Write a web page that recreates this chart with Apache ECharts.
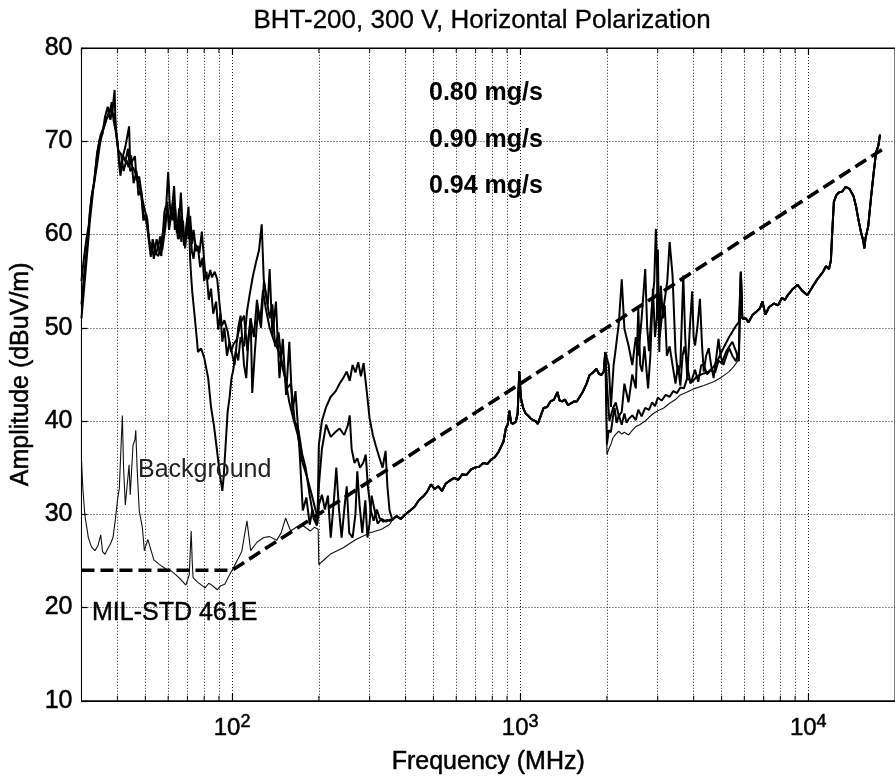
<!DOCTYPE html>
<html><head><meta charset="utf-8">
<script src="https://cdn.jsdelivr.net/npm/echarts@6/dist/echarts.min.js"></script>
<style>html,body{margin:0;padding:0;background:#fff}#c{width:895px;height:780px}</style>
</head><body><div id="c"></div>
<script>
// ---------- axes ----------
const xMin = 30, xMax = 20000;
const yMin = 10, yMax = 80, yStep = 10;
const xLabelExponents = [2, 3, 4];
const minorFreqs = [40,50,60,70,80,90,200,300,400,500,600,700,800,900,2000,3000,4000,5000,6000,7000,8000,9000];

// ---------- MIL-STD 461E limit ----------
const limitLine = [[30,24],[100,24],[18000,69.1]];

// ---------- background ----------
const bgLow = [[30,36],[30.3,33],[30.8,30],[31.7,27.5],[32.5,26.5],[33.4,26.1],[34.2,26.6],[35.0,27.8],[35.5,26.0],[36.2,25.7],[37.0,26.3],[37.8,26.8],[38.6,27.5],[39.4,29.6],[40.0,31.5],[40.6,32.8],[41.0,36],[41.6,40.6],[42.0,35],[42.6,31],[43.2,33],[43.9,35.3],[44.3,32.1],[45.3,37.4],[46.0,38],[46.3,39],[46.8,35],[47.6,30.4],[48.8,28.6],[49.6,26.1],[51.0,27.3],[51.6,27.5],[53.5,25.1],[56,24.6],[59.1,24.1],[61,24.0],[63.8,23.5],[66.4,23.0],[69.1,22.4],[71,23.5],[72.1,28.2],[72.7,25],[73.2,23.2],[76.1,22.7],[80.6,22.1],[83,22.6],[85.1,22.4],[88.8,21.9],[91,22.3],[94.3,22.5],[98.0,23.5],[100,24],[104,25],[108,26],[112.6,29.3],[116,26.1],[122,27],[128.8,27.5],[135,27.6],[142.8,27.2],[148,28],[153.4,29.6],[159.6,28.2],[167,28.6],[176,28.8],[186.8,28.2],[193,28.6],[199,28.4],[200,24.6],[210,25.2],[219,25.7],[243,26.4],[269,27.3],[300,28],[330,28.4],[352,28.9]];
const bgMid = [[2000,36.4],[2030,37],[2065,37.5],[2100,38.2],[2147,38.6],[2200,38.9],[2252,38.6],[2300,38.8],[2377,38.5],[2450,39],[2520,39.4],[2600,39.6],[2716,40.0],[2800,40.4],[2900,40.8],[3006,41.1],[3150,41.4],[3302,41.9],[3460,42.3],[3597,42.8],[3800,43.1],[4046,43.5],[4339,43.8],[4692,44.2],[5000,44.7],[5313,45.3],[5500,45.8],[5742,46.6]];

// ---------- thruster runs, 30-360 MHz ----------
const run080Low = [[30,51],[30.6,54],[31.2,57],[31.7,59.5],[32.1,61.5],[32.7,63.8],[33.4,66.5],[34.0,68.5],[34.7,70.2],[35.5,70.8],[36.2,72.6],[37.0,73.7],[37.8,72.3],[38.5,73.5],[39.1,75.5],[39.4,71.5],[40.0,70],[40.6,67.3],[41.0,66.3],[41.6,68.2],[42.6,69.4],[43.9,71.6],[44.3,67.5],[44.9,67.3],[46.0,68.4],[46.6,65.8],[47.6,66.2],[48.8,63.8],[49.6,62.8],[50.8,61.6],[51.6,59.2],[52.7,58.8],[53.5,57.4],[54.7,59.5],[55.9,58.3],[56.8,57.7],[58.2,62.4],[59.1,63.2],[60.0,66.7],[60.7,63.5],[61.4,61.6],[62.9,65.2],[63.8,61.5],[64.9,59.5],[66.4,64.5],[67.3,61],[68.1,58.8],[69.1,60.2],[70.6,63],[71.5,57.4],[72.1,55.5],[72.7,53.9],[74,51.5],[75.6,48.5],[76.1,47.4],[78,47.8],[80,46.8],[82.6,44.6],[84.5,41.5],[86.5,39.5],[88.5,37],[90.5,34.5],[92.5,32.5],[93.5,34],[95,37.5],[96.5,41],[98,42.5],[99.5,44.6],[101,45.5],[103,47.5],[105,46.5],[107,49],[110,48],[112.6,51.7],[115,53.5],[118,55.5],[121,57],[124,58.3],[126.7,61.1],[128.8,55.2],[131,53.5],[133,52.5],[135,56.3],[138,49.2],[142,52.8],[146,44.6],[150,48.8],[154,42.8],[158,48.5],[162,41],[166,43.2],[171,37.4],[176,30.4],[181,31.8],[186,28.9],[190,30.5],[194,29.5],[198,29],[200,37.4],[205,40],[212,41.5],[220,42.6],[229,43.2],[236,44],[243,44.6],[250,45.3],[256,44.3],[262,46],[268,45.2],[274,46.3],[280,44.8],[286,46.2],[289,46],[295,42.5],[300,40.3],[308,38.5],[315,37.4],[325,36],[333,35],[341,36.8],[346,33],[352,30.4]];
const run090Low = [[30,52.5],[30.6,55.5],[31.2,58],[31.7,60],[32.1,62.5],[32.7,64.5],[33.4,66],[34.0,67.5],[34.7,69.5],[35.5,71],[36.2,71.8],[37.0,72.8],[37.8,73.5],[38.5,72.6],[39.1,73],[39.8,70.2],[40.6,68],[41.2,67],[41.8,68.5],[42.6,67.8],[43.5,69.2],[44.3,66.8],[45.3,67.2],[46.3,66.5],[47.6,65.2],[48.3,64.5],[49.2,62.2],[50.3,61.5],[51.2,60],[52.2,58.3],[53.2,59.2],[54.3,58],[55.5,57.7],[56.5,58.8],[57.5,60.2],[58.7,61.5],[59.6,62.8],[60.4,61.2],[61.4,62.5],[62.5,63.5],[63.3,60.5],[64.3,61.5],[65.5,59.5],[66.7,62],[67.5,60.5],[68.7,58.8],[69.8,61.2],[70.6,59.5],[71.5,61],[72.5,58.2],[73.5,57.4],[74.5,59],[75.6,58.8],[77,58],[78.5,60.3],[80.6,56],[82.6,55.2],[84,56.2],[85.1,55.4],[87,56],[88.8,55.2],[90.5,52.5],[92.1,50.2],[94,50.8],[96.5,49.6],[99.2,47.4],[101,48.2],[104,48.8],[107,50.5],[110,51.3],[113,47.5],[116,51],[119,49],[122,53],[125,50.5],[128,54],[131,52],[135,50],[140,48.5],[145,47.5],[150,46],[155,43.5],[160,44],[165,40],[170,39],[175,36.5],[180,35],[186,32],[192,29.5],[197,28.8],[200,33],[205,37],[212,39.6],[220,38.3],[228,38.8],[236,39.2],[245,38.5],[252,39.5],[256,40.6],[260,37],[266,35.5],[272,36],[278,35],[285,35.5],[291,36.4],[296,33],[303,30.4],[310,29.3],[318,30.5],[325,29.6],[335,29.2],[345,29.4],[352,29.3]];
const run094Low = [[30,55],[30.6,57.5],[31.2,59.5],[31.8,61],[32.5,64],[33.2,65.5],[34,68.8],[34.9,70.6],[35.8,71.5],[36.6,72.4],[37.4,72.8],[38.2,74.2],[38.8,72.2],[39.6,70.8],[40.3,69],[41.2,68.6],[42.0,66.8],[43,68],[43.7,67.2],[44.6,68.5],[45.5,65.5],[46.6,66.8],[47.3,64.2],[48.3,64.8],[49.2,61.5],[50.3,62.2],[51.2,59.8],[52.2,57.6],[53,59.5],[54.3,57.8],[55.5,58.8],[56.3,59.8],[57.2,58.3],[58.7,60.8],[59.6,63.5],[60.4,60.5],[61.8,62.4],[62.5,61.5],[63.3,63.2],[64.3,60.2],[65.5,62.8],[66.7,59.2],[67.5,61.5],[68.7,58.5],[69.8,61.8],[70.6,60.2],[71.5,62],[72.7,59],[73.5,60.5],[75,58.2],[76,58.8],[77.5,56.5],[79,57.5],[80,55],[81.5,56],[83,53],[84.5,54.2],[86,51.5],[88,52.8],[89.5,49.8],[91,51.5],[92.5,48.5],[94,50],[96,47],[98,48.5],[100,47.2],[102,46],[105,50],[107,51.3],[110,46],[112,44.6],[114,49],[116,51],[117.5,43],[120,47.5],[123,52],[126,50],[129,55],[132,53],[135,51],[138,52.5],[141,48],[145,49.5],[149,46],[153,44.5],[158,42],[163,40.3],[169,38.5],[175,35.7],[182,34],[189,32.1],[195,30.4],[199,29.5],[200,31],[205,32.1],[210,30.5],[215,32],[220,27.5],[225,31],[230,35],[235,30.5],[240,27.5],[246,31],[250,33],[255,28],[262,27.5],[268,30],[272,34.6],[277,31],[283,28],[290,31.5],[295,27.5],[300,29],[305,32],[312,30.5],[320,29],[330,29.5],[342,29.2],[352,29.4]];

// ---------- common trace 360-2000 MHz ----------
const mergedMid = [[360,29.4],[372,29.8],[385,29.5],[400,30.0],[415,30.4],[430,30.8],[445,31.5],[460,31.9],[475,32.4],[490,33.2],[505,32.7],[520,33.0],[535,32.5],[552,33.3],[570,33.6],[590,33.9],[610,33.7],[630,34.3],[650,34.2],[675,34.8],[695,35.0],[720,35.1],[745,35.5],[770,35.4],[795,35.9],[815,36.1],[838,36.6],[860,37.3],[875,37.8],[893,39.3],[905,39.6],[917,41.1],[930,39.8],[945,39.7],[965,39.9],[980,40.8],[993,45.3],[1005,42.5],[1024,41.4],[1045,40.8],[1064,40.6],[1085,40.3],[1107,40.1],[1130,40.0],[1151,39.7],[1180,40.6],[1206,41.4],[1240,41.5],[1274,42.1],[1310,42.3],[1346,43.1],[1370,42.2],[1399,42.1],[1430,42.3],[1466,41.7],[1500,41.9],[1540,42.1],[1572,42.1],[1610,42.6],[1648,43.1],[1700,44.0],[1740,44.9],[1790,45.2],[1838,45.6],[1875,45.1],[1911,44.9],[1950,45.3],[1974,47.4]];

// ---------- thruster runs, 2-6 GHz ----------
const run080Band = [[2000,47.4],[2030,46],[2065,41.5],[2110,46],[2147,47.8],[2200,50.5],[2252,55.2],[2300,49.9],[2377,48.1],[2450,46],[2520,49],[2570,47],[2640,51],[2716,56.3],[2760,50],[2800,47.5],[2860,52],[2920,55],[2958,60.6],[3006,53.4],[3050,49],[3100,51],[3175,53],[3240,55],[3302,59.2],[3380,55.6],[3461,47.4],[3530,45],[3597,46],[3682,55.6],[3740,49],[3800,44.6],[3880,50],[3953,53.9],[4000,49],[4046,48.1],[4120,50],[4207,53.1],[4280,48],[4339,45.3],[4420,47],[4512,47.8],[4600,46],[4692,44.6],[4780,46.5],[4879,48.8],[4960,47],[5073,46],[5200,47],[5313,47.8],[5450,47],[5609,46.4],[5742,47.5]];
const run090Band = [[2000,37.5],[2030,39],[2065,38.8],[2100,40.5],[2127,41.4],[2160,39.8],[2200,40.6],[2252,39.6],[2300,40.8],[2340,39.8],[2377,40.2],[2450,40.6],[2520,40.1],[2570,41.2],[2640,40.5],[2716,41.4],[2800,41.2],[2870,42],[2937,41.6],[3006,42.5],[3100,42.2],[3200,42.8],[3302,42.6],[3400,43.2],[3500,43],[3597,43.6],[3700,43.5],[3800,44.6],[3953,44.2],[4110,44.8],[4339,45.1],[4512,45.3],[4692,45.8],[4879,46.7],[5073,47.8],[5313,49],[5609,50.2],[5742,50.6]];
const run094Band = [[2000,44],[2040,40],[2100,41.4],[2147,42],[2200,40.5],[2252,41],[2300,44],[2377,42],[2450,45],[2520,43.5],[2570,52],[2610,46],[2650,45.3],[2700,48],[2779,43.5],[2830,47],[2890,54.2],[2937,49],[2980,51],[3006,58.4],[3040,47.4],[3077,54.5],[3130,51],[3175,52.4],[3230,47],[3302,48],[3380,46],[3461,44],[3530,46],[3597,43.8],[3660,47],[3720,48],[3800,46],[3900,44],[4046,45.5],[4150,44.2],[4250,46],[4339,46],[4450,45],[4600,45.5],[4750,45.2],[4879,46.5],[5000,46.2],[5200,47.5],[5450,48.5],[5609,47.5],[5742,46.4]];

// ---------- common trace 6-18 GHz ----------
const upperBand = [[5834,56],[5900,51],[6067,51],[6200,50.6],[6411,51.4],[6600,51.7],[6800,52.1],[6934,52.8],[7100,51.4],[7300,52.2],[7600,52.6],[7852,52.4],[8100,53.2],[8300,53],[8491,53.5],[8800,54.1],[9182,54.6],[9500,54],[9930,53.5],[10300,54.3],[10740,55.2],[11200,55.9],[11520,56.6],[11800,56.3],[11980,57.2],[12100,60],[12270,63.5],[12500,64.2],[12760,64.5],[13100,64.6],[13480,65.1],[13900,64.9],[14360,64.1],[14650,63],[14930,61.6],[15250,60.2],[15530,59.3],[15650,58.5],[15800,59.6],[16150,60.9],[16530,64.1],[16850,66.5],[17190,68.8],[17500,69.5],[17740,70.7]];

// ---------- texts ----------
const titleText = 'BHT-200, 300 V, Horizontal Polarization';
const xName = 'Frequency (MHz)';
const yName = 'Amplitude (dBuV/m)';
const flowLabels = ['0.80 mg/s', '0.90 mg/s', '0.94 mg/s'];

const FONT = '"Liberation Sans", Arial, Helvetica, sans-serif';
const chart = echarts.init(document.getElementById('c'), null, {renderer: 'canvas'});

const dotted = {color: '#222', width: 1, type: [1, 2]};
const ink = {textBorderColor: '#000', textBorderWidth: 0.5};
function run(name, data, width, color) {
  return {type: 'line', name, data, symbol: 'none', showSymbol: false, animation: false,
    lineStyle: {width, color}, z: 3, clip: true};
}
function xLabel(val) {
  const e = Math.log10(val), r = Math.round(e);
  if (Math.abs(e - r) < 1e-6 && xLabelExponents.includes(r)) return '{b|10}{s|' + r + '}';
  return '';
}
function txt(text, x, y, size, extra) {
  return {type: 'text', silent: true, z: 10, style: Object.assign({text, x, y, textAlign: 'left',
    textVerticalAlign: 'middle', fontSize: size, fontFamily: FONT, fill: '#000'}, extra || {})};
}

const option = {
  backgroundColor: '#fff',
  animation: false,
  grid: {left: 73, right: -7, top: 48, bottom: 76, show: true, borderColor: '#000', borderWidth: 1},
  xAxis: [{
    type: 'log', logBase: 10, min: xMin, max: xMax,
    name: xName, nameLocation: 'middle', nameGap: 49,
    nameTextStyle: Object.assign({fontSize: 25, fontFamily: FONT, color: '#000'}, ink),
    axisLine: {show: true, lineStyle: {color: '#000', width: 1}},
    axisTick: {show: true, inside: true, length: 7, lineStyle: {color: '#000', width: 1.2}},
    axisLabel: {show: true, formatter: xLabel, margin: 16, showMinLabel: false, showMaxLabel: false,
      rich: {
        b: Object.assign({fontSize: 24, fontFamily: FONT, color: '#000', verticalAlign: 'bottom', lineHeight: 24}, ink),
        s: Object.assign({fontSize: 18, fontFamily: FONT, color: '#000', verticalAlign: 'bottom', lineHeight: 18, padding: [0, 0, 10, 0]}, ink)
      }},
    splitLine: {show: true, lineStyle: dotted},
    minorTick: {show: false}
  }, {
    type: 'log', logBase: 10, min: xMin, max: xMax, position: 'top',
    axisLine: {show: true, lineStyle: {color: '#000', width: 1}},
    axisTick: {show: true, inside: true, length: 7, lineStyle: {color: '#000', width: 1.2}},
    axisLabel: {show: false}, splitLine: {show: false}
  }],
  yAxis: {
    type: 'value', min: yMin, max: yMax, interval: yStep,
    name: yName, nameLocation: 'middle', nameGap: 39, nameRotate: 90,
    nameTextStyle: Object.assign({fontSize: 25, fontFamily: FONT, color: '#000'}, ink),
    axisLine: {show: true, lineStyle: {color: '#000', width: 1}},
    axisTick: {show: true, inside: true, length: 6, lineStyle: {color: '#000', width: 1.2}},
    axisLabel: Object.assign({fontSize: 25, fontFamily: FONT, color: '#000', margin: 9}, ink),
    splitLine: {show: true, lineStyle: dotted}
  },
  series: [
    {
      type: 'line', name: 'MIL-STD 461E', data: limitLine, symbol: 'none', animation: false, z: 4,
      lineStyle: {color: '#000', width: 3.6, type: [13, 6]},
      markLine: {
        silent: true, symbol: ['none', 'none'], label: {show: false}, z: 1, animation: false,
        lineStyle: dotted, emphasis: {disabled: true},
        data: minorFreqs.map(f => ({xAxis: f}))
      }
    },
    run('Background', bgLow.concat(mergedMid, bgMid), 1.1, '#111'),
    run('0.80 mg/s', run080Low.concat(mergedMid, run080Band, upperBand), 2, '#000'),
    run('0.90 mg/s', run090Low.concat(mergedMid, run090Band, upperBand), 2, '#000'),
    run('0.94 mg/s', run094Low.concat(mergedMid, run094Band, upperBand), 2, '#000'),
    {
      type: 'scatter', name: 'minorTicksBottom', silent: true, animation: false, z: 6,
      data: minorFreqs.map(f => [f, yMin]), symbol: 'rect', symbolSize: [1.2, 5], symbolOffset: [0, -2.5],
      itemStyle: {color: '#000'}
    },
    {
      type: 'scatter', name: 'minorTicksTop', silent: true, animation: false, z: 6,
      data: minorFreqs.map(f => [f, yMax]), symbol: 'rect', symbolSize: [1.2, 5], symbolOffset: [0, 2.5],
      itemStyle: {color: '#000'}
    }
  ],
  graphic: [
    txt(titleText, 482, 21, 26, {textAlign: 'center', stroke: '#000', lineWidth: 0.3}),
    txt(flowLabels[0], 429, 93, 25, {fontWeight: 'bold'}),
    txt(flowLabels[1], 429, 140, 25, {fontWeight: 'bold'}),
    txt(flowLabels[2], 429, 186, 25, {fontWeight: 'bold'}),
    txt('Background', 138, 470, 25, {fill: '#222'}),
    txt('MIL-STD 461E', 92, 613, 25, {stroke: '#000', lineWidth: 0.4})
  ]
};
chart.setOption(option);
</script>
</body></html>
